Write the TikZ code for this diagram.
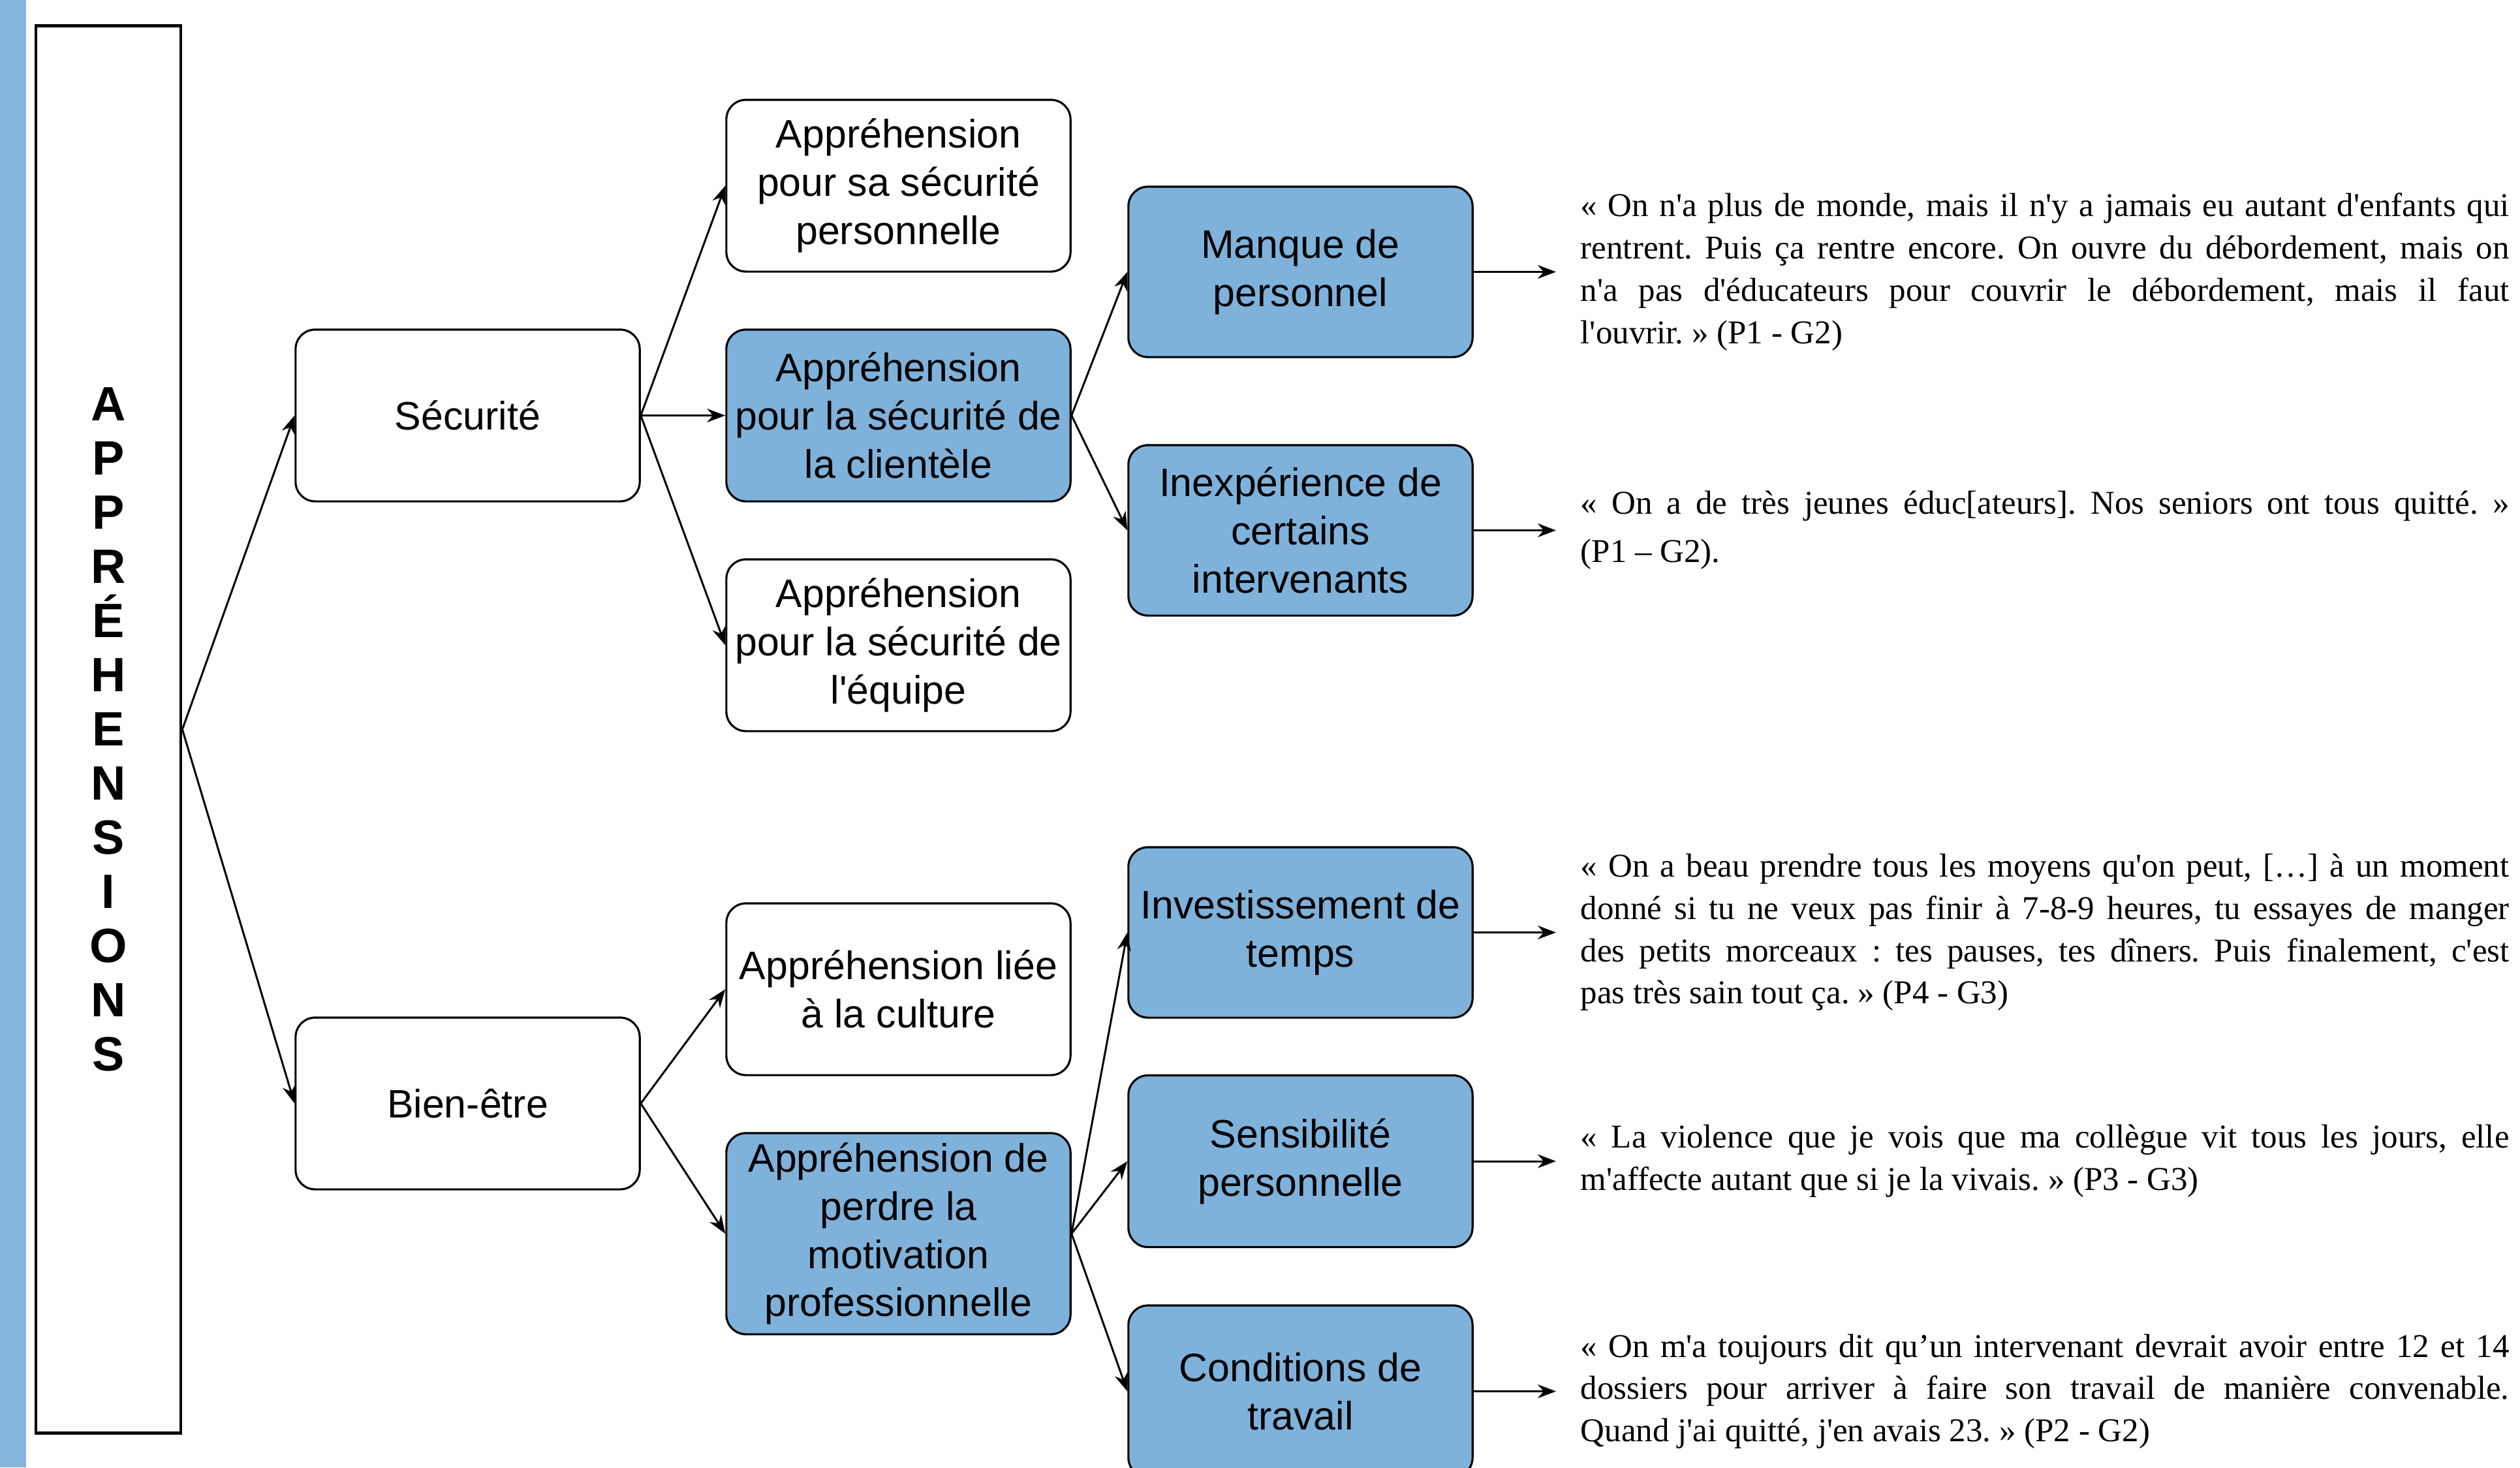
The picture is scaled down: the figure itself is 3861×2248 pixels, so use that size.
\documentclass[tikz,border=0pt]{standalone}
\usepackage{fontspec}
\newfontfamily\boxfont{Liberation Sans}[Ligatures=TeXOff]
\newfontfamily\qfont{Liberation Serif}[Ligatures=TeXOff]
\usetikzlibrary{arrows.meta}
\definecolor{boxblue}{RGB}{127,178,219}
\definecolor{barblue}{RGB}{133,181,218}
\tikzset{
  whitebox/.style={draw=black, line width=0.9pt, rounded corners=0.3cm, fill=white,
    minimum width=5.27cm, minimum height=2.63cm, align=center, inner sep=2pt,
    font=\boxfont\fontsize{17.3pt}{21pt}\selectfont},
  bluebox/.style={whitebox, fill=boxblue},
  arr/.style={line width=0.85pt, -{Stealth[length=0.28cm, width=0.21cm]}},
  quotetext/.style={anchor=west, text width=14.22cm, align=justify, inner sep=0pt,
    font=\qfont\frenchspacing\fontsize{14.5pt}{18.4pt}\selectfont},
}
\begin{document}
\begin{tikzpicture}[x=0.01cm, y=-0.01cm]
\useasboundingbox (0,0) rectangle (3861,2248);
\clip (0,0) rectangle (3861,2248);
\fill[white] (0,0) rectangle (3861,2248);
\fill[barblue] (0,0) rectangle (40,2248);

\node[draw=black, line width=1.3pt, minimum width=2.22cm, minimum height=21.55cm, inner sep=0pt,
  align=center, font=\boxfont\bfseries\fontsize{21pt}{23.6pt}\selectfont] (main) at (166,1117.5)
  {A\\P\\P\\R\\É\\H\\E\\N\\S\\I\\O\\N\\S};

\node[whitebox] (sec) at (716.5,636.5) {Sécurité};
\node[whitebox] (bien) at (716.5,1690.5) {Bien-être};

\node[whitebox] (perso) at (1376.5,284.5) {Appréhension\\pour sa sécurité\\personnelle};
\node[bluebox] (client) at (1376.5,636.5) {Appréhension\\pour la sécurité de\\la clientèle};
\node[whitebox] (equipe) at (1376.5,988.5) {Appréhension\\pour la sécurité de\\l'équipe};
\node[whitebox] (culture) at (1376.5,1515.5) {Appréhension liée\\à la culture};
\node[bluebox, minimum height=3.08cm] (motiv) at (1376.5,1890) {Appréhension de\\perdre la\\motivation\\professionnelle};

\node[bluebox, minimum height=2.61cm] (manque) at (1992.5,416.5) {Manque de\\personnel};
\node[bluebox, minimum height=2.61cm] (inexp) at (1992.5,812.5) {Inexpérience de\\certains\\intervenants};
\node[bluebox, minimum height=2.61cm] (invest) at (1992.5,1428.5) {Investissement de\\temps};
\node[bluebox] (sensib) at (1992.5,1779) {Sensibilité\\personnelle};
\node[bluebox] (cond) at (1992.5,2131.5) {Conditions de\\travail};

\node[quotetext] (q1) at (2421,416.5) {«~On n'a plus de monde, mais il n'y a jamais eu autant d'enfants qui\linebreak
rentrent. Puis ça rentre encore. On ouvre du débordement, mais on\linebreak
n'a pas d'éducateurs pour couvrir le débordement, mais il faut\linebreak
l'ouvrir.~» (P1 - G2)};
\node[quotetext, font=\qfont\frenchspacing\fontsize{14.5pt}{21pt}\selectfont] (q2) at (2421,812.5) {«~On a de très jeunes éduc[ateurs]. Nos seniors ont tous quitté.~»\linebreak
(P1 – G2).};
\node[quotetext] (q3) at (2421,1428.5) {«~On a beau prendre tous les moyens qu'on peut, […] à un moment\linebreak
donné si tu ne veux pas finir à 7-8-9 heures, tu essayes de manger\linebreak
des petits morceaux : tes pauses, tes dîners. Puis finalement, c'est\linebreak
pas très sain tout ça.~» (P4 - G3)};
\node[quotetext] (q4) at (2421,1779) {«~La violence que je vois que ma collègue vit tous les jours, elle\linebreak
m'affecte autant que si je la vivais.~» (P3 - G3)};
\node[quotetext] (q5) at (2421,2131.5) {«~On m'a toujours dit qu’un intervenant devrait avoir entre 12 et 14\linebreak
dossiers pour arriver à faire son travail de manière convenable.\linebreak
Quand j'ai quitté, j'en avais 23.~» (P2 - G2)};

\draw[arr] (main.east) -- (sec.west);
\draw[arr] (main.east) -- (bien.west);
\draw[arr] (sec.east) -- (perso.west);
\draw[arr] (sec.east) -- (client.west);
\draw[arr] (sec.east) -- (equipe.west);
\draw[arr] (bien.east) -- (culture.west);
\draw[arr] (bien.east) -- (motiv.west);
\draw[arr] (client.east) -- (manque.west);
\draw[arr] (client.east) -- (inexp.west);
\draw[arr] (motiv.east) -- (invest.west);
\draw[arr] (motiv.east) -- (sensib.west);
\draw[arr] (motiv.east) -- (cond.west);
\draw[arr, shorten >=0.37cm] (manque.east) -- (q1.west);
\draw[arr, shorten >=0.37cm] (inexp.east) -- (q2.west);
\draw[arr, shorten >=0.37cm] (invest.east) -- (q3.west);
\draw[arr, shorten >=0.37cm] (sensib.east) -- (q4.west);
\draw[arr, shorten >=0.37cm] (cond.east) -- (q5.west);
\end{tikzpicture}
\end{document}
